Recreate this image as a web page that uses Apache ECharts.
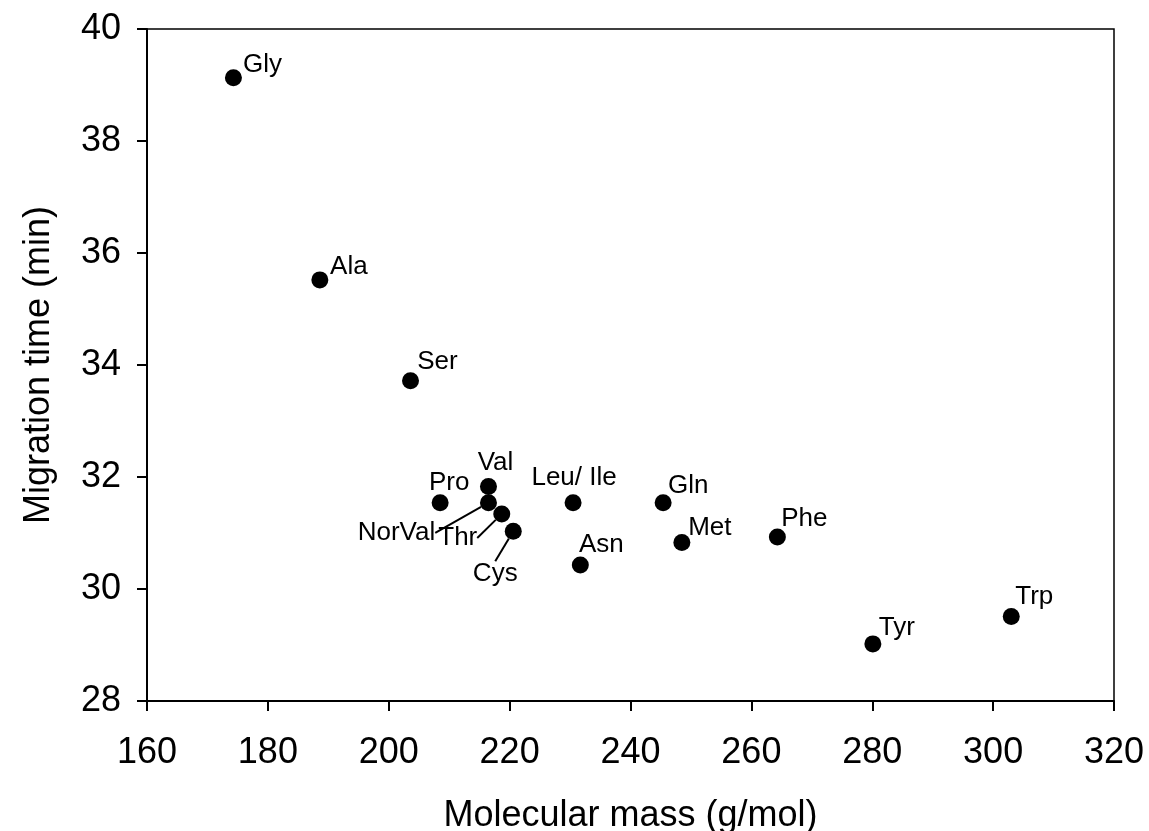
<!DOCTYPE html>
<html>
<head>
<meta charset="utf-8">
<script src="https://cdn.jsdelivr.net/npm/echarts@6/dist/echarts.min.js"></script>
<style>
  html, body { margin: 0; padding: 0; background: #fff; }
  #chart { width: 1149px; height: 831px; }
</style>
</head>
<body>
<div id="chart"></div>
<script>
// amino acids: molecular mass vs migration time
const aminoNames = ["Gly", "Ala", "Ser", "Pro", "Val", "NorVal", "Thr", "Cys", "Leu/ Ile", "Asn", "Gln", "Met", "Phe", "Tyr", "Trp"];
const molecularMass = [174.3, 188.6, 203.6, 208.5, 216.5, 216.5, 218.7, 220.6, 230.5, 231.7, 245.4, 248.5, 264.3, 280.1, 303.0];
const migrationTime = [39.13, 35.52, 33.72, 31.54, 31.83, 31.54, 31.34, 31.03, 31.54, 30.43, 31.54, 30.83, 30.93, 29.02, 29.51];
const xTicks = { min: 160, max: 320, interval: 20 };
const yTicks = { min: 28, max: 40, interval: 2 };

// label offsets from the dot centre (px), and which labels get a leader line
const labelOffset = {
  "Gly": [29, -13], "Ala": [29, -13], "Ser": [27, -19], "Pro": [9, -20],
  "Val": [7, -24], "NorVal": [-92, 30], "Thr": [-44, 24], "Cys": [-18, 43],
  "Leu/ Ile": [1, -25], "Asn": [21, -20], "Gln": [25, -17], "Met": [28, -15],
  "Phe": [27, -18], "Tyr": [24, -16], "Trp": [23, -20],
};
const leaderNames = ["NorVal", "Thr", "Cys"];

const fontFamily = "'Liberation Sans', Arial, sans-serif";

const chart = echarts.init(document.getElementById("chart"), null, { renderer: "canvas" });

const seriesData = aminoNames.map((name, i) => {
  const item = { name, value: [molecularMass[i], migrationTime[i]] };
  if (leaderNames.includes(name)) {
    item.labelLine = { show: true };
  }
  return item;
});

const option = {
  animation: false,
  backgroundColor: "#fff",
  grid: {
    left: 147,
    right: 35,
    top: 29,
    bottom: 130,
    containLabel: false,
    outerBoundsMode: "none",
    show: true,
    borderColor: "#000",
    borderWidth: 1.5,
  },
  xAxis: {
    type: "value",
    min: xTicks.min,
    max: xTicks.max,
    interval: xTicks.interval,
    name: "Molecular mass (g/mol)",
    nameLocation: "middle",
    nameGap: 97,
    nameTextStyle: { color: "#000", fontSize: 36, fontFamily },
    axisLine: { onZero: false, lineStyle: { color: "#000", width: 2 } },
    axisTick: { show: true, inside: false, length: 10, lineStyle: { color: "#000", width: 2 } },
    axisLabel: { color: "#000", fontSize: 36, fontFamily, margin: 34 },
    splitLine: { show: false },
  },
  yAxis: {
    type: "value",
    min: yTicks.min,
    max: yTicks.max,
    interval: yTicks.interval,
    name: "Migration time (min)",
    nameLocation: "middle",
    nameGap: 90,
    nameTextStyle: { color: "#000", fontSize: 36, fontFamily },
    axisLine: { onZero: false, lineStyle: { color: "#000", width: 2 } },
    axisTick: { show: true, inside: false, length: 10, lineStyle: { color: "#000", width: 2 } },
    axisLabel: { color: "#000", fontSize: 36, fontFamily, margin: 26 },
    splitLine: { show: false },
  },
  series: [
    {
      type: "scatter",
      symbol: "circle",
      symbolSize: 17,
      itemStyle: { color: "#000", opacity: 1 },
      data: seriesData,
      label: {
        show: true,
        position: "inside",
        align: "center",
        verticalAlign: "middle",
        formatter: (p) => p.name,
        color: "#000",
        fontSize: 26,
        fontFamily,
      },
      labelLine: {
        show: false,
        lineStyle: { color: "#000", width: 2, opacity: 1 },
      },
      labelLayout(params) {
        const off = labelOffset[aminoNames[params.dataIndex]] || [0, 0];
        return { dx: off[0], dy: off[1] };
      },
      emphasis: { disabled: true },
    },
  ],
};

chart.setOption(option);
</script>
</body>
</html>
